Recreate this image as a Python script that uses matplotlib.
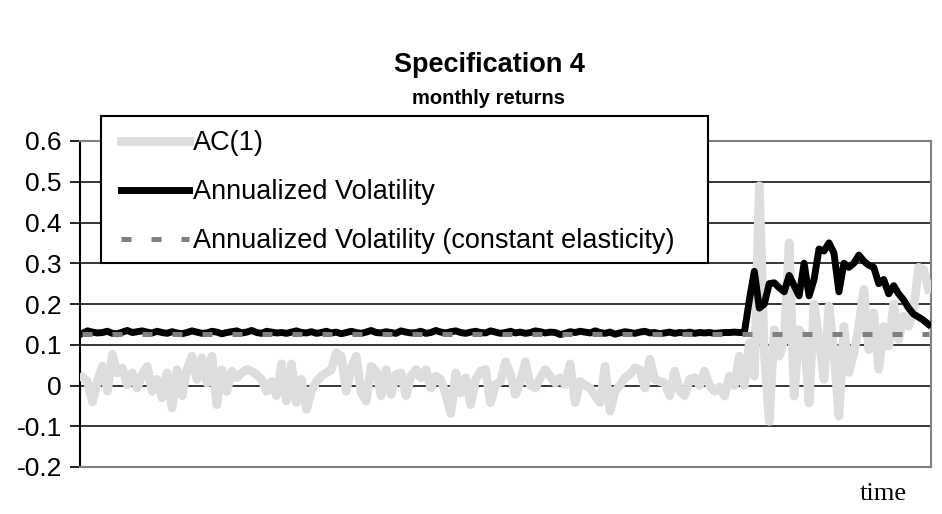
import matplotlib
matplotlib.use("Agg")
import matplotlib.pyplot as plt
from matplotlib.patches import Rectangle
import numpy as np

# AC(1) (one value per month)
ac1 = [
    0.02, 0.01, -0.04, 0.01, 0.047, -0.014, 0.076, 0.031, 0.043, 0.002,
    0.031, -0.006, 0.027, 0.047, -0.014, 0.015, -0.03, 0.031, -0.055, 0.039,
    -0.025, 0.039, 0.072, 0.015, 0.068, 0.006, 0.072, -0.047, 0.039, -0.014,
    0.035, 0.019,
    0.031, 0.039, 0.035, 0.027, 0.015, -0.014, 0.01, -0.025, 0.053, -0.038,
    0.053, -0.042, 0.015, -0.059, -0.014, 0.01, 0.023, 0.031, 0.039, 0.08,
    0.072, -0.014, 0.043, 0.072, -0.018, -0.038, 0.047, 0.035, -0.025, 0.039,
    -0.022, 0.027,
    0.031, -0.025, 0.023, 0.039, 0.019, 0.039, -0.006, 0.023, 0.015, -0.022,
    -0.069, 0.031, -0.018, 0.019, -0.047, 0.015, 0.035, 0.039, -0.042, 0.002,
    0.01, 0.058, 0.027, -0.022, 0.01, 0.058, 0.0, -0.006, 0.019, 0.039,
    0.023, 0.006,
    0.019, 0.002, 0.053, -0.042, 0.01, 0.0, -0.006, -0.025, -0.042, 0.047,
    -0.063, -0.014, 0.0, 0.019, 0.027, 0.043, 0.039, -0.006, 0.064, 0.015,
    0.01, 0.006, -0.025, 0.035, -0.014, -0.025, 0.015, 0.019, 0.0, 0.035,
    0.0, -0.014,
    -0.004, -0.026, 0.023, 0.0, 0.072, 0.0, 0.105, 0.023, 0.49, 0.08,
    -0.088, 0.137, 0.072, 0.113, 0.35, -0.026, 0.137, 0.12, -0.043, 0.2,
    0.113, 0.015, 0.195, 0.08, -0.075, 0.145, 0.032, 0.08, 0.145, 0.236,
    0.088, 0.178, 0.04, 0.145, 0.096, 0.2, 0.113, 0.17, 0.145, 0.186,
    0.29, 0.285, 0.236,
]

# Annualized Volatility
vol = [
    0.128, 0.134, 0.131, 0.129, 0.130, 0.133, 0.128, 0.127, 0.131, 0.135,
    0.130, 0.132, 0.134, 0.131, 0.129, 0.133, 0.130, 0.128, 0.132, 0.129,
    0.127, 0.130, 0.134, 0.131, 0.128, 0.129, 0.133, 0.131, 0.127, 0.130,
    0.132, 0.134, 0.129, 0.131, 0.135, 0.130, 0.128, 0.133, 0.131, 0.129,
    0.130, 0.128, 0.131, 0.134, 0.130, 0.129, 0.132, 0.128, 0.130, 0.133,
    0.129, 0.131, 0.127, 0.130, 0.133, 0.130, 0.128, 0.131, 0.135, 0.130,
    0.129, 0.132, 0.130, 0.128, 0.134, 0.131, 0.129, 0.130, 0.133, 0.128,
    0.130, 0.135, 0.131, 0.129, 0.132, 0.134, 0.130, 0.128, 0.131, 0.133,
    0.130, 0.129, 0.134, 0.131, 0.128, 0.130, 0.133, 0.129, 0.131, 0.128,
    0.130, 0.134, 0.132, 0.129, 0.131, 0.130, 0.125, 0.128, 0.132, 0.130,
    0.133, 0.131, 0.129, 0.134, 0.130, 0.128, 0.131, 0.126, 0.129, 0.132,
    0.130, 0.128, 0.131, 0.133, 0.129, 0.130, 0.127, 0.129, 0.131, 0.128,
    0.130, 0.129, 0.131, 0.128, 0.130, 0.129, 0.130, 0.128, 0.129, 0.130,
    0.130, 0.131, 0.130, 0.130,
    0.21, 0.28, 0.19, 0.2, 0.25, 0.252, 0.24, 0.23, 0.27, 0.245,
    0.22, 0.3, 0.22, 0.26, 0.335, 0.33, 0.35, 0.325, 0.23, 0.3,
    0.29, 0.3, 0.32, 0.305, 0.295, 0.29, 0.25, 0.26, 0.225, 0.245,
    0.225, 0.21, 0.19, 0.175, 0.168, 0.16, 0.15,
]

# Annualized Volatility (constant elasticity) is flat
const_vol = [0.127] * len(ac1)

y_ticks = [0.6, 0.5, 0.4, 0.3, 0.2, 0.1, 0, -0.1, -0.2]
y_labels = ["0.6", "0.5", "0.4", "0.3", "0.2", "0.1", "0", "-0.1", "-0.2"]

plt.rcParams['font.family'] = ['Liberation Sans', 'DejaVu Sans']

W, H = 942, 514
fig = plt.figure(figsize=(W/100, H/100), dpi=100)
ax = fig.add_axes([80/W, 1 - 467/H, 851/W, 326/H])

x = np.arange(len(ac1))
l1, = ax.plot(x, ac1, color='#dddddd', lw=6.3, label='AC(1)', zorder=3)
l2, = ax.plot(x, vol, color='black', lw=5, label='Annualized Volatility', zorder=4)
l3, = ax.plot(x, const_vol, color='#808080', lw=3.6, dashes=(2, 4),
              label='Annualized Volatility (constant elasticity)', zorder=5)

ax.set_xlim(-0.5, len(ac1) - 0.5)
ax.set_ylim(-0.2, 0.6)
ax.set_yticks(y_ticks)
ax.set_yticklabels(y_labels, fontsize=19)
ax.set_xticks([])
ax.tick_params(axis='y', direction='out', length=7, width=1.2, pad=6)
ax.yaxis.grid(True, color='black', lw=1.1)
ax.set_axisbelow(True)

for s in ['top', 'right', 'bottom']:
    ax.spines[s].set_color('#808080')
    ax.spines[s].set_linewidth(1.5)
ax.spines['left'].set_color('black')
ax.spines['left'].set_linewidth(1.5)

# legend box drawn by hand so its padding matches the original
box = Rectangle((101/W, 1 - 263/H), 607/W, 147/H, transform=fig.transFigure,
                facecolor='white', edgecolor='black', lw=1.5, zorder=5)
fig.patches.append(box)

leg = fig.legend(handles=[l1, l2, l3], loc='upper left',
                 bbox_to_anchor=(121/W, 1 - 130/H), borderaxespad=0,
                 fontsize=19.5, frameon=False,
                 handlelength=2.5, handletextpad=0.15, labelspacing=0.85,
                 borderpad=0)
leg.set_zorder(6)

fig.text(489/W, 1 - 65/H, 'Specification 4', ha='center', va='center',
         fontsize=19.5, fontweight='bold')
fig.text(489/W, 1 - 98/H, 'monthly returns', ha='center', va='center',
         fontsize=14.5, fontweight='bold')
fig.text(883/W, 1 - 494/H, 'time', ha='center', va='center',
         fontsize=19, family='Liberation Serif')

fig.savefig('out.png', dpi=100)
